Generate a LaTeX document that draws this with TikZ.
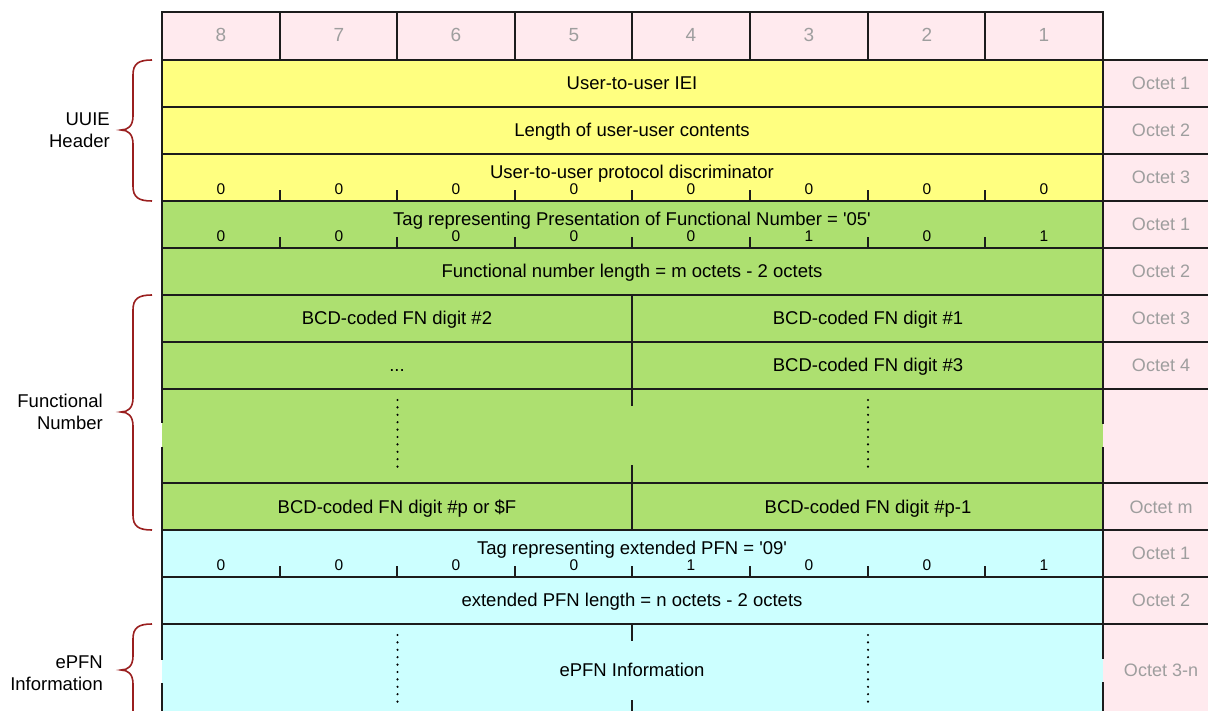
\documentclass[tikz,border=0pt]{standalone}
\usepackage{fontspec}
\setmainfont{Liberation Sans}[Ligatures=TeXOff]
\definecolor{pinkc}{HTML}{FFEAEE}
\definecolor{yellowc}{HTML}{FFFF80}
\definecolor{greenc}{HTML}{ADE070}
\definecolor{cyanc}{HTML}{CCFFFF}
\definecolor{octgray}{HTML}{9E9E9E}
\definecolor{linec}{HTML}{1C1C1C}
\definecolor{bracered}{HTML}{9A1F1F}
\begin{document}
\begin{tikzpicture}[x=1pt,y=-1pt,
  txt/.style={inner sep=0pt, text height=0.72em, text depth=0pt, yshift=-2.5pt, font=\fontsize{18.5}{21}\selectfont},
  oct/.style={txt, text=octgray, font=\fontsize{18}{21}\selectfont},
  hdr/.style={inner sep=0pt, text height=0.72em, text depth=0pt, yshift=-2.5pt, font=\fontsize{19}{22}\selectfont, text=octgray},
  bit/.style={inner sep=0pt, text height=0.72em, text depth=0pt, yshift=-2pt, font=\fontsize{15.5}{18}\selectfont},
  lbl/.style={inner sep=0pt, align=right, anchor=east, font=\fontsize{18.5}{22.5}\selectfont},
  grid/.style={draw=linec, line width=1.5pt},
  dotline/.style={draw=black, line width=2.4pt, line cap=round, dash pattern=on 0pt off 7.4pt},
  bracestyle/.style={draw=bracered, line width=1.6pt}]
\useasboundingbox (0,0) rectangle (1208,711);
% fills
\fill[white] (0,0) rectangle (1208,711);
\fill[pinkc] (162,12) rectangle (1103,60);
\fill[pinkc] (1103,60) rectangle (1208,711);
\fill[yellowc] (162,60) rectangle (1103,201);
\fill[greenc] (162,201) rectangle (1103,530);
\fill[cyanc] (162,530) rectangle (1103,711);
% header grid
\draw[grid] (162,12) rectangle (1103,60);
\foreach \x in {280,397,515,632,750,868,985} \draw[grid] (\x,12) -- (\x,60);
% horizontal lines
\foreach \y in {60,107,154,201,248,295,342,389,483,530,577,624} \draw[grid] (162,\y) -- (1208,\y);
% left and right borders
\draw[grid] (162,60) -- (162,423);
\draw[grid] (162,447) -- (162,660);
\draw[grid] (162,683) -- (162,711);
\draw[grid] (1103,60) -- (1103,424);
\draw[grid] (1103,447) -- (1103,659);
\draw[grid] (1103,682) -- (1103,711);
% middle divider
\draw[grid] (632,295) -- (632,406);
\draw[grid] (632,465) -- (632,530);
\draw[grid] (632,624) -- (632,641);
\draw[grid] (632,700) -- (632,711);
% ticks
\foreach \yb in {201,248,577}
  \foreach \x in {280,397,515,632,750,868,985} \draw[grid] (\x,\yb) -- (\x,\yb-11);
% dotted lines
\draw[dotline] (397.5,400) -- (397.5,468);
\draw[dotline] (868,400) -- (868,468);
\draw[dotline] (397.5,635) -- (397.5,703);
\draw[dotline] (868,635) -- (868,703);
% header numbers
\foreach \n/\x in {8/221,7/339,6/456,5/574,4/691,3/809,2/927,1/1044}
  \node[hdr] (h\n) at (\x,35) {\n};
% yellow rows
\node[txt] (iei) at (632,83) {User-to-user IEI};
\node[txt] (len) at (632,130) {Length of user-user contents};
\node[txt] (pd) at (632,172.5) {User-to-user protocol discriminator};
\foreach \v/\x [count=\i] in {0/221,0/339,0/456,0/574,0/691,0/809,0/927,0/1044}
  \node[bit] (pdb\i) at (\x,189) {\v};
% green rows
\node[txt] (tag) at (632,219) {Tag representing Presentation of Functional Number = '05'};
\foreach \v/\x [count=\i] in {0/221,0/339,0/456,0/574,0/691,1/809,0/927,1/1044}
  \node[bit] (tagb\i) at (\x,236) {\v};
\node[txt] (fnl) at (632,271) {Functional number length = m octets - 2 octets};
\node[txt] (d2) at (397,318) {BCD-coded FN digit \#2};
\node[txt] (d1) at (868,318) {BCD-coded FN digit \#1};
\node[txt] (dd) at (397,365) {...};
\node[txt] (d3) at (868,365) {BCD-coded FN digit \#3};
\node[txt] (dp) at (397,507) {BCD-coded FN digit \#p or \$F};
\node[txt] (dp1) at (868,507) {BCD-coded FN digit \#p-1};
% cyan rows
\node[txt] (etag) at (632,548) {Tag representing extended PFN = '09'};
\foreach \v/\x [count=\i] in {0/221,0/339,0/456,0/574,1/691,0/809,0/927,1/1044}
  \node[bit] (etagb\i) at (\x,565) {\v};
\node[txt] (elen) at (632,600) {extended PFN length = n octets - 2 octets};
\node[txt] (einfo) at (632,670) {ePFN Information};
% octet labels
\node[oct] (o1) at (1161,83) {Octet 1};
\node[oct] (o2) at (1161,130) {Octet 2};
\node[oct] (o3) at (1161,177) {Octet 3};
\node[oct] (p1) at (1161,224) {Octet 1};
\node[oct] (p2) at (1161,271) {Octet 2};
\node[oct] (p3) at (1161,318) {Octet 3};
\node[oct] (p4) at (1161,365) {Octet 4};
\node[oct] (pm) at (1161,507) {Octet m};
\node[oct] (e1) at (1161,553) {Octet 1};
\node[oct] (e2) at (1161,600) {Octet 2};
\node[oct] (e3) at (1161,670) {Octet 3-n};
% braces
\draw[bracestyle] (152,60) .. controls (138,60) and (133,64) .. (133,75) -- (133,116)
  .. controls (133,126) and (128,130) .. (121,130)
  .. controls (128,130) and (133,134) .. (133,144) -- (133,186)
  .. controls (133,197) and (138,201) .. (152,201);
\draw[bracestyle] (152,295) .. controls (138,295) and (133,299) .. (133,310) -- (133,398)
  .. controls (133,408) and (128,412) .. (121,412)
  .. controls (128,412) and (133,416) .. (133,426) -- (133,515)
  .. controls (133,526) and (138,530) .. (152,530);
\draw[bracestyle] (152,624) .. controls (138,624) and (133,628) .. (133,639) -- (133,656)
  .. controls (133,666) and (128,670) .. (121,670)
  .. controls (128,670) and (133,674) .. (133,684) -- (133,711);
% side labels
\node[lbl] (uuie) at (110,130) {UUIE\\Header};
\node[lbl] (fn) at (103,412) {Functional\\Number};
\node[lbl] (epfn) at (103,673) {ePFN\\Information};
\end{tikzpicture}
\end{document}
